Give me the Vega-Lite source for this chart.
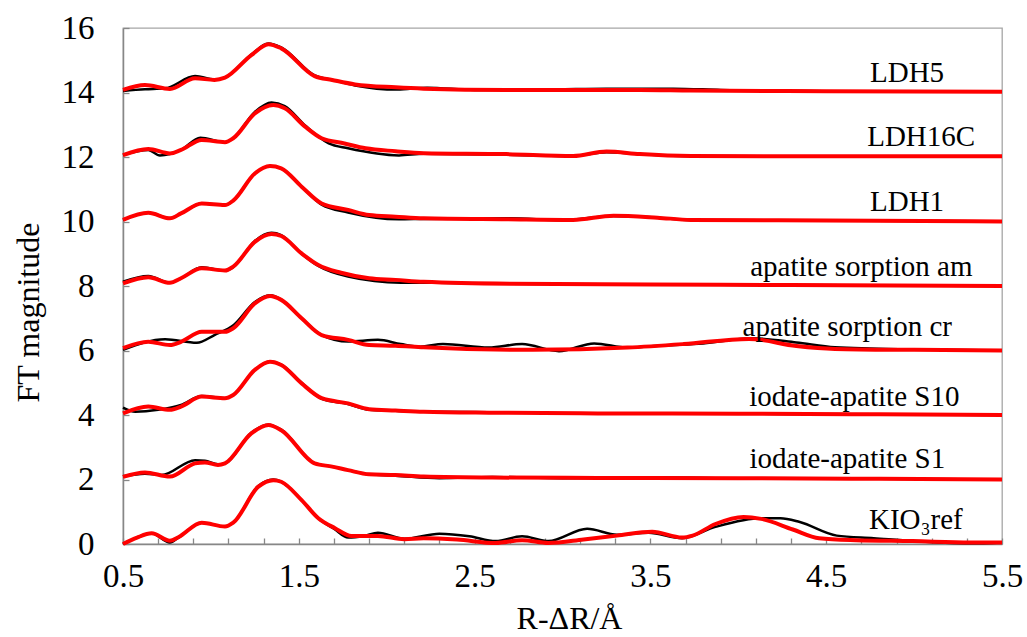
{
  "$schema": "https://vega.github.io/schema/vega-lite/v6.json",
  "autosize": {"type": "none"},
  "padding": {"left": 123, "top": 28, "right": 25, "bottom": 93},
  "width": 879,
  "height": 516,
  "background": "white",
  "config": {
    "view": {"stroke": "#a6a6a6", "strokeWidth": 1.3},
    "axis": {
      "grid": false,
      "domainColor": "#878787",
      "domainWidth": 1.5,
      "tickColor": "#878787",
      "tickWidth": 1.3,
      "tickSize": -6,
      "labelFont": "Liberation Serif",
      "labelFontSize": 33,
      "labelColor": "black",
      "titleFont": "Liberation Serif",
      "titleFontSize": 32,
      "titleFontWeight": "normal",
      "titleColor": "black"
    }
  },
  "datasets": {
    "curves": [
      {"sample":"KIO3ref","kind":"fit","r":0.5,"ft":0.0},{"sample":"KIO3ref","kind":"fit","r":0.58,"ft":0.2},{"sample":"KIO3ref","kind":"fit","r":0.663,"ft":0.33},{"sample":"KIO3ref","kind":"fit","r":0.767,"ft":0.1},{"sample":"KIO3ref","kind":"fit","r":0.815,"ft":0.21},{"sample":"KIO3ref","kind":"fit","r":0.948,"ft":0.66},{"sample":"KIO3ref","kind":"fit","r":1.08,"ft":0.54},{"sample":"KIO3ref","kind":"fit","r":1.127,"ft":0.66},{"sample":"KIO3ref","kind":"fit","r":1.27,"ft":1.78},{"sample":"KIO3ref","kind":"fit","r":1.355,"ft":1.98},{"sample":"KIO3ref","kind":"fit","r":1.4,"ft":1.93},{"sample":"KIO3ref","kind":"fit","r":1.516,"ft":1.36},{"sample":"KIO3ref","kind":"fit","r":1.611,"ft":0.8},{"sample":"KIO3ref","kind":"fit","r":1.706,"ft":0.49},{"sample":"KIO3ref","kind":"fit","r":1.8,"ft":0.25},{"sample":"KIO3ref","kind":"fit","r":1.95,"ft":0.25},{"sample":"KIO3ref","kind":"fit","r":2.1,"ft":0.15},{"sample":"KIO3ref","kind":"fit","r":2.21,"ft":0.18},{"sample":"KIO3ref","kind":"fit","r":2.4,"ft":0.14},{"sample":"KIO3ref","kind":"fit","r":2.62,"ft":0.03},{"sample":"KIO3ref","kind":"fit","r":2.77,"ft":0.12},{"sample":"KIO3ref","kind":"fit","r":2.92,"ft":0.03},{"sample":"KIO3ref","kind":"fit","r":3.12,"ft":0.14},{"sample":"KIO3ref","kind":"fit","r":3.31,"ft":0.26},{"sample":"KIO3ref","kind":"fit","r":3.51,"ft":0.38},{"sample":"KIO3ref","kind":"fit","r":3.68,"ft":0.2},{"sample":"KIO3ref","kind":"fit","r":3.74,"ft":0.26},{"sample":"KIO3ref","kind":"fit","r":3.87,"ft":0.62},{"sample":"KIO3ref","kind":"fit","r":4.03,"ft":0.84},{"sample":"KIO3ref","kind":"fit","r":4.13,"ft":0.78},{"sample":"KIO3ref","kind":"fit","r":4.31,"ft":0.45},{"sample":"KIO3ref","kind":"fit","r":4.46,"ft":0.18},{"sample":"KIO3ref","kind":"fit","r":4.67,"ft":0.12},{"sample":"KIO3ref","kind":"fit","r":4.99,"ft":0.09},{"sample":"KIO3ref","kind":"fit","r":5.32,"ft":0.05},{"sample":"KIO3ref","kind":"fit","r":5.5,"ft":0.05},
      {"sample":"KIO3ref","kind":"data","r":0.5,"ft":0.0},{"sample":"KIO3ref","kind":"data","r":0.58,"ft":0.2},{"sample":"KIO3ref","kind":"data","r":0.663,"ft":0.33},{"sample":"KIO3ref","kind":"data","r":0.767,"ft":0.05},{"sample":"KIO3ref","kind":"data","r":0.815,"ft":0.2},{"sample":"KIO3ref","kind":"data","r":0.948,"ft":0.66},{"sample":"KIO3ref","kind":"data","r":1.08,"ft":0.54},{"sample":"KIO3ref","kind":"data","r":1.127,"ft":0.66},{"sample":"KIO3ref","kind":"data","r":1.27,"ft":1.8},{"sample":"KIO3ref","kind":"data","r":1.355,"ft":2.0},{"sample":"KIO3ref","kind":"data","r":1.4,"ft":1.93},{"sample":"KIO3ref","kind":"data","r":1.516,"ft":1.36},{"sample":"KIO3ref","kind":"data","r":1.611,"ft":0.8},{"sample":"KIO3ref","kind":"data","r":1.706,"ft":0.45},{"sample":"KIO3ref","kind":"data","r":1.78,"ft":0.2},{"sample":"KIO3ref","kind":"data","r":1.87,"ft":0.25},{"sample":"KIO3ref","kind":"data","r":1.95,"ft":0.35},{"sample":"KIO3ref","kind":"data","r":2.1,"ft":0.16},{"sample":"KIO3ref","kind":"data","r":2.3,"ft":0.32},{"sample":"KIO3ref","kind":"data","r":2.47,"ft":0.24},{"sample":"KIO3ref","kind":"data","r":2.62,"ft":0.09},{"sample":"KIO3ref","kind":"data","r":2.77,"ft":0.24},{"sample":"KIO3ref","kind":"data","r":2.92,"ft":0.09},{"sample":"KIO3ref","kind":"data","r":3.14,"ft":0.47},{"sample":"KIO3ref","kind":"data","r":3.31,"ft":0.29},{"sample":"KIO3ref","kind":"data","r":3.49,"ft":0.35},{"sample":"KIO3ref","kind":"data","r":3.68,"ft":0.18},{"sample":"KIO3ref","kind":"data","r":3.87,"ft":0.53},{"sample":"KIO3ref","kind":"data","r":4.13,"ft":0.8},{"sample":"KIO3ref","kind":"data","r":4.24,"ft":0.8},{"sample":"KIO3ref","kind":"data","r":4.35,"ft":0.68},{"sample":"KIO3ref","kind":"data","r":4.56,"ft":0.26},{"sample":"KIO3ref","kind":"data","r":4.77,"ft":0.18},{"sample":"KIO3ref","kind":"data","r":4.99,"ft":0.09},{"sample":"KIO3ref","kind":"data","r":5.32,"ft":0.02},{"sample":"KIO3ref","kind":"data","r":5.5,"ft":0.05},
      {"sample":"S1","kind":"fit","r":0.5,"ft":2.08},{"sample":"S1","kind":"fit","r":0.625,"ft":2.22},{"sample":"S1","kind":"fit","r":0.767,"ft":2.09},{"sample":"S1","kind":"fit","r":0.91,"ft":2.5},{"sample":"S1","kind":"fit","r":0.966,"ft":2.53},{"sample":"S1","kind":"fit","r":1.04,"ft":2.45},{"sample":"S1","kind":"fit","r":1.08,"ft":2.5},{"sample":"S1","kind":"fit","r":1.23,"ft":3.43},{"sample":"S1","kind":"fit","r":1.327,"ft":3.69},{"sample":"S1","kind":"fit","r":1.4,"ft":3.53},{"sample":"S1","kind":"fit","r":1.59,"ft":2.5},{"sample":"S1","kind":"fit","r":1.69,"ft":2.4},{"sample":"S1","kind":"fit","r":1.78,"ft":2.29},{"sample":"S1","kind":"fit","r":1.9,"ft":2.16},{"sample":"S1","kind":"fit","r":2.05,"ft":2.14},{"sample":"S1","kind":"fit","r":2.21,"ft":2.09},{"sample":"S1","kind":"fit","r":2.6,"ft":2.06},{"sample":"S1","kind":"fit","r":3.2,"ft":2.05},{"sample":"S1","kind":"fit","r":4.0,"ft":2.04},{"sample":"S1","kind":"fit","r":4.8,"ft":2.02},{"sample":"S1","kind":"fit","r":5.5,"ft":2.0},
      {"sample":"S1","kind":"data","r":0.5,"ft":2.1},{"sample":"S1","kind":"data","r":0.625,"ft":2.18},{"sample":"S1","kind":"data","r":0.72,"ft":2.14},{"sample":"S1","kind":"data","r":0.91,"ft":2.6},{"sample":"S1","kind":"data","r":0.966,"ft":2.58},{"sample":"S1","kind":"data","r":1.04,"ft":2.47},{"sample":"S1","kind":"data","r":1.08,"ft":2.5},{"sample":"S1","kind":"data","r":1.23,"ft":3.45},{"sample":"S1","kind":"data","r":1.327,"ft":3.7},{"sample":"S1","kind":"data","r":1.4,"ft":3.55},{"sample":"S1","kind":"data","r":1.59,"ft":2.5},{"sample":"S1","kind":"data","r":1.69,"ft":2.4},{"sample":"S1","kind":"data","r":1.78,"ft":2.29},{"sample":"S1","kind":"data","r":1.9,"ft":2.16},{"sample":"S1","kind":"data","r":2.05,"ft":2.12},{"sample":"S1","kind":"data","r":2.3,"ft":2.04},{"sample":"S1","kind":"data","r":2.6,"ft":2.08},{"sample":"S1","kind":"data","r":3.0,"ft":2.04},{"sample":"S1","kind":"data","r":3.6,"ft":2.06},{"sample":"S1","kind":"data","r":4.0,"ft":2.03},{"sample":"S1","kind":"data","r":4.8,"ft":2.02},{"sample":"S1","kind":"data","r":5.5,"ft":2.0},
      {"sample":"S10","kind":"fit","r":0.5,"ft":4.05},{"sample":"S10","kind":"fit","r":0.644,"ft":4.26},{"sample":"S10","kind":"fit","r":0.767,"ft":4.16},{"sample":"S10","kind":"fit","r":0.83,"ft":4.26},{"sample":"S10","kind":"fit","r":0.948,"ft":4.57},{"sample":"S10","kind":"fit","r":1.08,"ft":4.52},{"sample":"S10","kind":"fit","r":1.127,"ft":4.62},{"sample":"S10","kind":"fit","r":1.25,"ft":5.4},{"sample":"S10","kind":"fit","r":1.336,"ft":5.65},{"sample":"S10","kind":"fit","r":1.4,"ft":5.55},{"sample":"S10","kind":"fit","r":1.516,"ft":4.98},{"sample":"S10","kind":"fit","r":1.63,"ft":4.52},{"sample":"S10","kind":"fit","r":1.78,"ft":4.36},{"sample":"S10","kind":"fit","r":1.9,"ft":4.18},{"sample":"S10","kind":"fit","r":2.05,"ft":4.14},{"sample":"S10","kind":"fit","r":2.21,"ft":4.1},{"sample":"S10","kind":"fit","r":2.6,"ft":4.07},{"sample":"S10","kind":"fit","r":3.2,"ft":4.05},{"sample":"S10","kind":"fit","r":4.0,"ft":4.04},{"sample":"S10","kind":"fit","r":4.8,"ft":4.02},{"sample":"S10","kind":"fit","r":5.5,"ft":4.0},
      {"sample":"S10","kind":"data","r":0.5,"ft":4.23},{"sample":"S10","kind":"data","r":0.57,"ft":4.1},{"sample":"S10","kind":"data","r":0.7,"ft":4.16},{"sample":"S10","kind":"data","r":0.83,"ft":4.31},{"sample":"S10","kind":"data","r":0.948,"ft":4.59},{"sample":"S10","kind":"data","r":1.08,"ft":4.52},{"sample":"S10","kind":"data","r":1.127,"ft":4.62},{"sample":"S10","kind":"data","r":1.25,"ft":5.4},{"sample":"S10","kind":"data","r":1.336,"ft":5.66},{"sample":"S10","kind":"data","r":1.4,"ft":5.56},{"sample":"S10","kind":"data","r":1.516,"ft":5.0},{"sample":"S10","kind":"data","r":1.63,"ft":4.5},{"sample":"S10","kind":"data","r":1.78,"ft":4.34},{"sample":"S10","kind":"data","r":1.9,"ft":4.16},{"sample":"S10","kind":"data","r":2.05,"ft":4.13},{"sample":"S10","kind":"data","r":2.21,"ft":4.1},{"sample":"S10","kind":"data","r":2.7,"ft":4.08},{"sample":"S10","kind":"data","r":3.0,"ft":4.05},{"sample":"S10","kind":"data","r":3.6,"ft":4.05},{"sample":"S10","kind":"data","r":4.0,"ft":4.04},{"sample":"S10","kind":"data","r":4.8,"ft":4.02},{"sample":"S10","kind":"data","r":5.5,"ft":4.0},
      {"sample":"cr","kind":"fit","r":0.5,"ft":6.07},{"sample":"cr","kind":"fit","r":0.644,"ft":6.27},{"sample":"cr","kind":"fit","r":0.767,"ft":6.17},{"sample":"cr","kind":"fit","r":0.83,"ft":6.27},{"sample":"cr","kind":"fit","r":0.948,"ft":6.58},{"sample":"cr","kind":"fit","r":1.08,"ft":6.58},{"sample":"cr","kind":"fit","r":1.127,"ft":6.69},{"sample":"cr","kind":"fit","r":1.25,"ft":7.46},{"sample":"cr","kind":"fit","r":1.336,"ft":7.69},{"sample":"cr","kind":"fit","r":1.4,"ft":7.57},{"sample":"cr","kind":"fit","r":1.516,"ft":7.0},{"sample":"cr","kind":"fit","r":1.63,"ft":6.48},{"sample":"cr","kind":"fit","r":1.78,"ft":6.33},{"sample":"cr","kind":"fit","r":1.9,"ft":6.17},{"sample":"cr","kind":"fit","r":2.05,"ft":6.15},{"sample":"cr","kind":"fit","r":2.21,"ft":6.1},{"sample":"cr","kind":"fit","r":2.83,"ft":6.02},{"sample":"cr","kind":"fit","r":3.37,"ft":6.09},{"sample":"cr","kind":"fit","r":3.69,"ft":6.2},{"sample":"cr","kind":"fit","r":4.06,"ft":6.36},{"sample":"cr","kind":"fit","r":4.33,"ft":6.14},{"sample":"cr","kind":"fit","r":4.55,"ft":6.05},{"sample":"cr","kind":"fit","r":5.0,"ft":6.02},{"sample":"cr","kind":"fit","r":5.5,"ft":6.0},
      {"sample":"cr","kind":"data","r":0.5,"ft":6.02},{"sample":"cr","kind":"data","r":0.74,"ft":6.35},{"sample":"cr","kind":"data","r":0.92,"ft":6.24},{"sample":"cr","kind":"data","r":1.02,"ft":6.48},{"sample":"cr","kind":"data","r":1.13,"ft":6.79},{"sample":"cr","kind":"data","r":1.25,"ft":7.5},{"sample":"cr","kind":"data","r":1.336,"ft":7.71},{"sample":"cr","kind":"data","r":1.4,"ft":7.58},{"sample":"cr","kind":"data","r":1.516,"ft":7.0},{"sample":"cr","kind":"data","r":1.63,"ft":6.48},{"sample":"cr","kind":"data","r":1.78,"ft":6.28},{"sample":"cr","kind":"data","r":1.95,"ft":6.33},{"sample":"cr","kind":"data","r":2.08,"ft":6.2},{"sample":"cr","kind":"data","r":2.19,"ft":6.12},{"sample":"cr","kind":"data","r":2.32,"ft":6.2},{"sample":"cr","kind":"data","r":2.58,"ft":6.09},{"sample":"cr","kind":"data","r":2.77,"ft":6.2},{"sample":"cr","kind":"data","r":2.98,"ft":5.98},{"sample":"cr","kind":"data","r":3.18,"ft":6.22},{"sample":"cr","kind":"data","r":3.37,"ft":6.09},{"sample":"cr","kind":"data","r":3.58,"ft":6.16},{"sample":"cr","kind":"data","r":3.8,"ft":6.22},{"sample":"cr","kind":"data","r":4.08,"ft":6.38},{"sample":"cr","kind":"data","r":4.33,"ft":6.25},{"sample":"cr","kind":"data","r":4.55,"ft":6.1},{"sample":"cr","kind":"data","r":5.0,"ft":6.03},{"sample":"cr","kind":"data","r":5.5,"ft":6.0},
      {"sample":"am","kind":"fit","r":0.5,"ft":8.08},{"sample":"am","kind":"fit","r":0.644,"ft":8.27},{"sample":"am","kind":"fit","r":0.767,"ft":8.1},{"sample":"am","kind":"fit","r":0.83,"ft":8.24},{"sample":"am","kind":"fit","r":0.948,"ft":8.55},{"sample":"am","kind":"fit","r":1.08,"ft":8.48},{"sample":"am","kind":"fit","r":1.127,"ft":8.6},{"sample":"am","kind":"fit","r":1.25,"ft":9.37},{"sample":"am","kind":"fit","r":1.345,"ft":9.61},{"sample":"am","kind":"fit","r":1.4,"ft":9.55},{"sample":"am","kind":"fit","r":1.516,"ft":9.01},{"sample":"am","kind":"fit","r":1.611,"ft":8.65},{"sample":"am","kind":"fit","r":1.74,"ft":8.41},{"sample":"am","kind":"fit","r":1.9,"ft":8.24},{"sample":"am","kind":"fit","r":2.05,"ft":8.19},{"sample":"am","kind":"fit","r":2.21,"ft":8.13},{"sample":"am","kind":"fit","r":2.7,"ft":8.07},{"sample":"am","kind":"fit","r":3.5,"ft":8.05},{"sample":"am","kind":"fit","r":4.3,"ft":8.03},{"sample":"am","kind":"fit","r":5.5,"ft":8.0},
      {"sample":"am","kind":"data","r":0.5,"ft":8.13},{"sample":"am","kind":"data","r":0.644,"ft":8.31},{"sample":"am","kind":"data","r":0.767,"ft":8.1},{"sample":"am","kind":"data","r":0.83,"ft":8.24},{"sample":"am","kind":"data","r":0.948,"ft":8.58},{"sample":"am","kind":"data","r":1.08,"ft":8.47},{"sample":"am","kind":"data","r":1.127,"ft":8.58},{"sample":"am","kind":"data","r":1.25,"ft":9.4},{"sample":"am","kind":"data","r":1.345,"ft":9.65},{"sample":"am","kind":"data","r":1.4,"ft":9.58},{"sample":"am","kind":"data","r":1.516,"ft":9.0},{"sample":"am","kind":"data","r":1.611,"ft":8.62},{"sample":"am","kind":"data","r":1.78,"ft":8.29},{"sample":"am","kind":"data","r":2.08,"ft":8.1},{"sample":"am","kind":"data","r":2.3,"ft":8.1},{"sample":"am","kind":"data","r":2.7,"ft":8.07},{"sample":"am","kind":"data","r":3.5,"ft":8.05},{"sample":"am","kind":"data","r":4.3,"ft":8.03},{"sample":"am","kind":"data","r":5.5,"ft":8.0},
      {"sample":"LDH1","kind":"fit","r":0.5,"ft":10.05},{"sample":"LDH1","kind":"fit","r":0.644,"ft":10.27},{"sample":"LDH1","kind":"fit","r":0.767,"ft":10.1},{"sample":"LDH1","kind":"fit","r":0.83,"ft":10.25},{"sample":"LDH1","kind":"fit","r":0.948,"ft":10.56},{"sample":"LDH1","kind":"fit","r":1.08,"ft":10.51},{"sample":"LDH1","kind":"fit","r":1.127,"ft":10.65},{"sample":"LDH1","kind":"fit","r":1.25,"ft":11.49},{"sample":"LDH1","kind":"fit","r":1.336,"ft":11.72},{"sample":"LDH1","kind":"fit","r":1.4,"ft":11.65},{"sample":"LDH1","kind":"fit","r":1.516,"ft":11.08},{"sample":"LDH1","kind":"fit","r":1.63,"ft":10.56},{"sample":"LDH1","kind":"fit","r":1.78,"ft":10.36},{"sample":"LDH1","kind":"fit","r":1.9,"ft":10.2},{"sample":"LDH1","kind":"fit","r":2.05,"ft":10.15},{"sample":"LDH1","kind":"fit","r":2.21,"ft":10.1},{"sample":"LDH1","kind":"fit","r":2.68,"ft":10.07},{"sample":"LDH1","kind":"fit","r":3.06,"ft":10.05},{"sample":"LDH1","kind":"fit","r":3.29,"ft":10.18},{"sample":"LDH1","kind":"fit","r":3.54,"ft":10.12},{"sample":"LDH1","kind":"fit","r":3.73,"ft":10.05},{"sample":"LDH1","kind":"fit","r":4.5,"ft":10.03},{"sample":"LDH1","kind":"fit","r":5.5,"ft":10.0},
      {"sample":"LDH1","kind":"data","r":0.5,"ft":10.05},{"sample":"LDH1","kind":"data","r":0.644,"ft":10.27},{"sample":"LDH1","kind":"data","r":0.767,"ft":10.1},{"sample":"LDH1","kind":"data","r":0.83,"ft":10.25},{"sample":"LDH1","kind":"data","r":0.948,"ft":10.56},{"sample":"LDH1","kind":"data","r":1.08,"ft":10.51},{"sample":"LDH1","kind":"data","r":1.127,"ft":10.65},{"sample":"LDH1","kind":"data","r":1.25,"ft":11.49},{"sample":"LDH1","kind":"data","r":1.336,"ft":11.72},{"sample":"LDH1","kind":"data","r":1.4,"ft":11.65},{"sample":"LDH1","kind":"data","r":1.516,"ft":11.08},{"sample":"LDH1","kind":"data","r":1.63,"ft":10.52},{"sample":"LDH1","kind":"data","r":1.78,"ft":10.28},{"sample":"LDH1","kind":"data","r":2.07,"ft":10.07},{"sample":"LDH1","kind":"data","r":2.2,"ft":10.08},{"sample":"LDH1","kind":"data","r":2.7,"ft":10.1},{"sample":"LDH1","kind":"data","r":3.0,"ft":10.04},{"sample":"LDH1","kind":"data","r":3.29,"ft":10.17},{"sample":"LDH1","kind":"data","r":3.54,"ft":10.12},{"sample":"LDH1","kind":"data","r":3.73,"ft":10.05},{"sample":"LDH1","kind":"data","r":4.5,"ft":10.03},{"sample":"LDH1","kind":"data","r":5.5,"ft":10.0},
      {"sample":"LDH16C","kind":"fit","r":0.5,"ft":12.06},{"sample":"LDH16C","kind":"fit","r":0.644,"ft":12.25},{"sample":"LDH16C","kind":"fit","r":0.767,"ft":12.11},{"sample":"LDH16C","kind":"fit","r":0.83,"ft":12.22},{"sample":"LDH16C","kind":"fit","r":0.948,"ft":12.53},{"sample":"LDH16C","kind":"fit","r":1.08,"ft":12.46},{"sample":"LDH16C","kind":"fit","r":1.127,"ft":12.58},{"sample":"LDH16C","kind":"fit","r":1.25,"ft":13.35},{"sample":"LDH16C","kind":"fit","r":1.355,"ft":13.61},{"sample":"LDH16C","kind":"fit","r":1.42,"ft":13.51},{"sample":"LDH16C","kind":"fit","r":1.536,"ft":12.94},{"sample":"LDH16C","kind":"fit","r":1.63,"ft":12.58},{"sample":"LDH16C","kind":"fit","r":1.76,"ft":12.42},{"sample":"LDH16C","kind":"fit","r":1.88,"ft":12.27},{"sample":"LDH16C","kind":"fit","r":2.05,"ft":12.18},{"sample":"LDH16C","kind":"fit","r":2.21,"ft":12.12},{"sample":"LDH16C","kind":"fit","r":2.68,"ft":12.09},{"sample":"LDH16C","kind":"fit","r":3.06,"ft":12.03},{"sample":"LDH16C","kind":"fit","r":3.25,"ft":12.17},{"sample":"LDH16C","kind":"fit","r":3.44,"ft":12.09},{"sample":"LDH16C","kind":"fit","r":3.73,"ft":12.03},{"sample":"LDH16C","kind":"fit","r":4.5,"ft":12.02},{"sample":"LDH16C","kind":"fit","r":5.5,"ft":12.02},
      {"sample":"LDH16C","kind":"data","r":0.5,"ft":12.06},{"sample":"LDH16C","kind":"data","r":0.644,"ft":12.22},{"sample":"LDH16C","kind":"data","r":0.71,"ft":12.05},{"sample":"LDH16C","kind":"data","r":0.83,"ft":12.22},{"sample":"LDH16C","kind":"data","r":0.94,"ft":12.6},{"sample":"LDH16C","kind":"data","r":1.08,"ft":12.46},{"sample":"LDH16C","kind":"data","r":1.127,"ft":12.58},{"sample":"LDH16C","kind":"data","r":1.25,"ft":13.4},{"sample":"LDH16C","kind":"data","r":1.345,"ft":13.69},{"sample":"LDH16C","kind":"data","r":1.42,"ft":13.58},{"sample":"LDH16C","kind":"data","r":1.536,"ft":12.98},{"sample":"LDH16C","kind":"data","r":1.67,"ft":12.42},{"sample":"LDH16C","kind":"data","r":1.78,"ft":12.27},{"sample":"LDH16C","kind":"data","r":2.07,"ft":12.05},{"sample":"LDH16C","kind":"data","r":2.21,"ft":12.1},{"sample":"LDH16C","kind":"data","r":2.87,"ft":12.05},{"sample":"LDH16C","kind":"data","r":3.06,"ft":12.03},{"sample":"LDH16C","kind":"data","r":3.25,"ft":12.15},{"sample":"LDH16C","kind":"data","r":3.44,"ft":12.09},{"sample":"LDH16C","kind":"data","r":3.73,"ft":12.03},{"sample":"LDH16C","kind":"data","r":4.5,"ft":12.02},{"sample":"LDH16C","kind":"data","r":5.5,"ft":12.02},
      {"sample":"LDH5","kind":"fit","r":0.5,"ft":14.08},{"sample":"LDH5","kind":"fit","r":0.625,"ft":14.23},{"sample":"LDH5","kind":"fit","r":0.767,"ft":14.11},{"sample":"LDH5","kind":"fit","r":0.91,"ft":14.44},{"sample":"LDH5","kind":"fit","r":1.02,"ft":14.39},{"sample":"LDH5","kind":"fit","r":1.08,"ft":14.46},{"sample":"LDH5","kind":"fit","r":1.23,"ft":15.16},{"sample":"LDH5","kind":"fit","r":1.327,"ft":15.5},{"sample":"LDH5","kind":"fit","r":1.4,"ft":15.37},{"sample":"LDH5","kind":"fit","r":1.59,"ft":14.51},{"sample":"LDH5","kind":"fit","r":1.69,"ft":14.39},{"sample":"LDH5","kind":"fit","r":1.82,"ft":14.25},{"sample":"LDH5","kind":"fit","r":2.05,"ft":14.16},{"sample":"LDH5","kind":"fit","r":2.21,"ft":14.12},{"sample":"LDH5","kind":"fit","r":2.68,"ft":14.08},{"sample":"LDH5","kind":"fit","r":3.44,"ft":14.08},{"sample":"LDH5","kind":"fit","r":3.73,"ft":14.06},{"sample":"LDH5","kind":"fit","r":4.5,"ft":14.04},{"sample":"LDH5","kind":"fit","r":5.5,"ft":14.02},
      {"sample":"LDH5","kind":"data","r":0.5,"ft":14.05},{"sample":"LDH5","kind":"data","r":0.625,"ft":14.1},{"sample":"LDH5","kind":"data","r":0.74,"ft":14.13},{"sample":"LDH5","kind":"data","r":0.91,"ft":14.51},{"sample":"LDH5","kind":"data","r":1.02,"ft":14.4},{"sample":"LDH5","kind":"data","r":1.08,"ft":14.46},{"sample":"LDH5","kind":"data","r":1.23,"ft":15.18},{"sample":"LDH5","kind":"data","r":1.327,"ft":15.52},{"sample":"LDH5","kind":"data","r":1.4,"ft":15.4},{"sample":"LDH5","kind":"data","r":1.59,"ft":14.53},{"sample":"LDH5","kind":"data","r":1.69,"ft":14.39},{"sample":"LDH5","kind":"data","r":1.82,"ft":14.22},{"sample":"LDH5","kind":"data","r":2.06,"ft":14.09},{"sample":"LDH5","kind":"data","r":2.23,"ft":14.15},{"sample":"LDH5","kind":"data","r":2.5,"ft":14.08},{"sample":"LDH5","kind":"data","r":2.97,"ft":14.1},{"sample":"LDH5","kind":"data","r":3.25,"ft":14.12},{"sample":"LDH5","kind":"data","r":3.63,"ft":14.12},{"sample":"LDH5","kind":"data","r":3.9,"ft":14.08},{"sample":"LDH5","kind":"data","r":4.5,"ft":14.04},{"sample":"LDH5","kind":"data","r":5.5,"ft":14.02}
    ],
    "labels": [
      {"label":"LDH5","r":4.96,"ft":14.6},
      {"label":"LDH16C","r":5.04,"ft":12.62},
      {"label":"LDH1","r":4.96,"ft":10.6},
      {"label":"apatite sorption am","r":4.7,"ft":8.59},
      {"label":"apatite sorption cr","r":4.62,"ft":6.73},
      {"label":"iodate-apatite S10","r":4.66,"ft":4.56},
      {"label":"iodate-apatite S1","r":4.62,"ft":2.64},
      {"label":"KIO₃ref","r":5.01,"ft":0.74}
    ]
  },
  "encoding": {
    "x": {
      "field": "r", "type": "quantitative",
      "scale": {"domain": [0.5, 5.5], "nice": false, "zero": false},
      "axis": {
        "title": "R-ΔR/Å",
        "values": [0.5,0.7,0.9,1.1,1.3,1.5,1.7,1.9,2.1,2.3,2.5,2.7,2.9,3.1,3.3,3.5,3.7,3.9,4.1,4.3,4.5,4.7,4.9,5.1,5.3,5.5],
        "labelExpr": "(round(datum.value*10) % 10 == 5) ? format(datum.value, '.1f') : ''",
        "labelOverlap": false,
        "labelFlush": false,
        "labelPadding": 22,
        "titleX": 446,
        "titleY": 84,
        "titleBaseline": "alphabetic",
        "titleAnchor": "middle"
      }
    },
    "y": {
      "field": "ft", "type": "quantitative",
      "scale": {"domain": [0, 16], "nice": false},
      "axis": {
        "title": "FT magnitude",
        "values": [0,2,4,6,8,10,12,14,16],
        "labelPadding": 35,
        "titleX": -85,
        "titleY": 284,
        "titleBaseline": "alphabetic",
        "titleAngle": -90,
        "titleAnchor": "middle"
      }
    }
  },
  "layer": [
    {
      "data": {"name": "curves"},
      "transform": [{"filter": "datum.kind == 'data'"}],
      "mark": {"type": "line", "color": "black", "strokeWidth": 2.5, "interpolate": "monotone"},
      "encoding": {"detail": {"field": "sample"}}
    },
    {
      "data": {"name": "curves"},
      "transform": [{"filter": "datum.kind == 'fit'"}],
      "mark": {"type": "line", "color": "#ff0000", "strokeWidth": 4, "interpolate": "monotone"},
      "encoding": {"detail": {"field": "sample"}}
    },
    {
      "data": {"name": "labels"},
      "mark": {"type": "text", "font": "Liberation Serif", "fontSize": 29, "color": "black", "align": "center", "baseline": "middle"},
      "encoding": {"text": {"field": "label"}}
    }
  ]
}
